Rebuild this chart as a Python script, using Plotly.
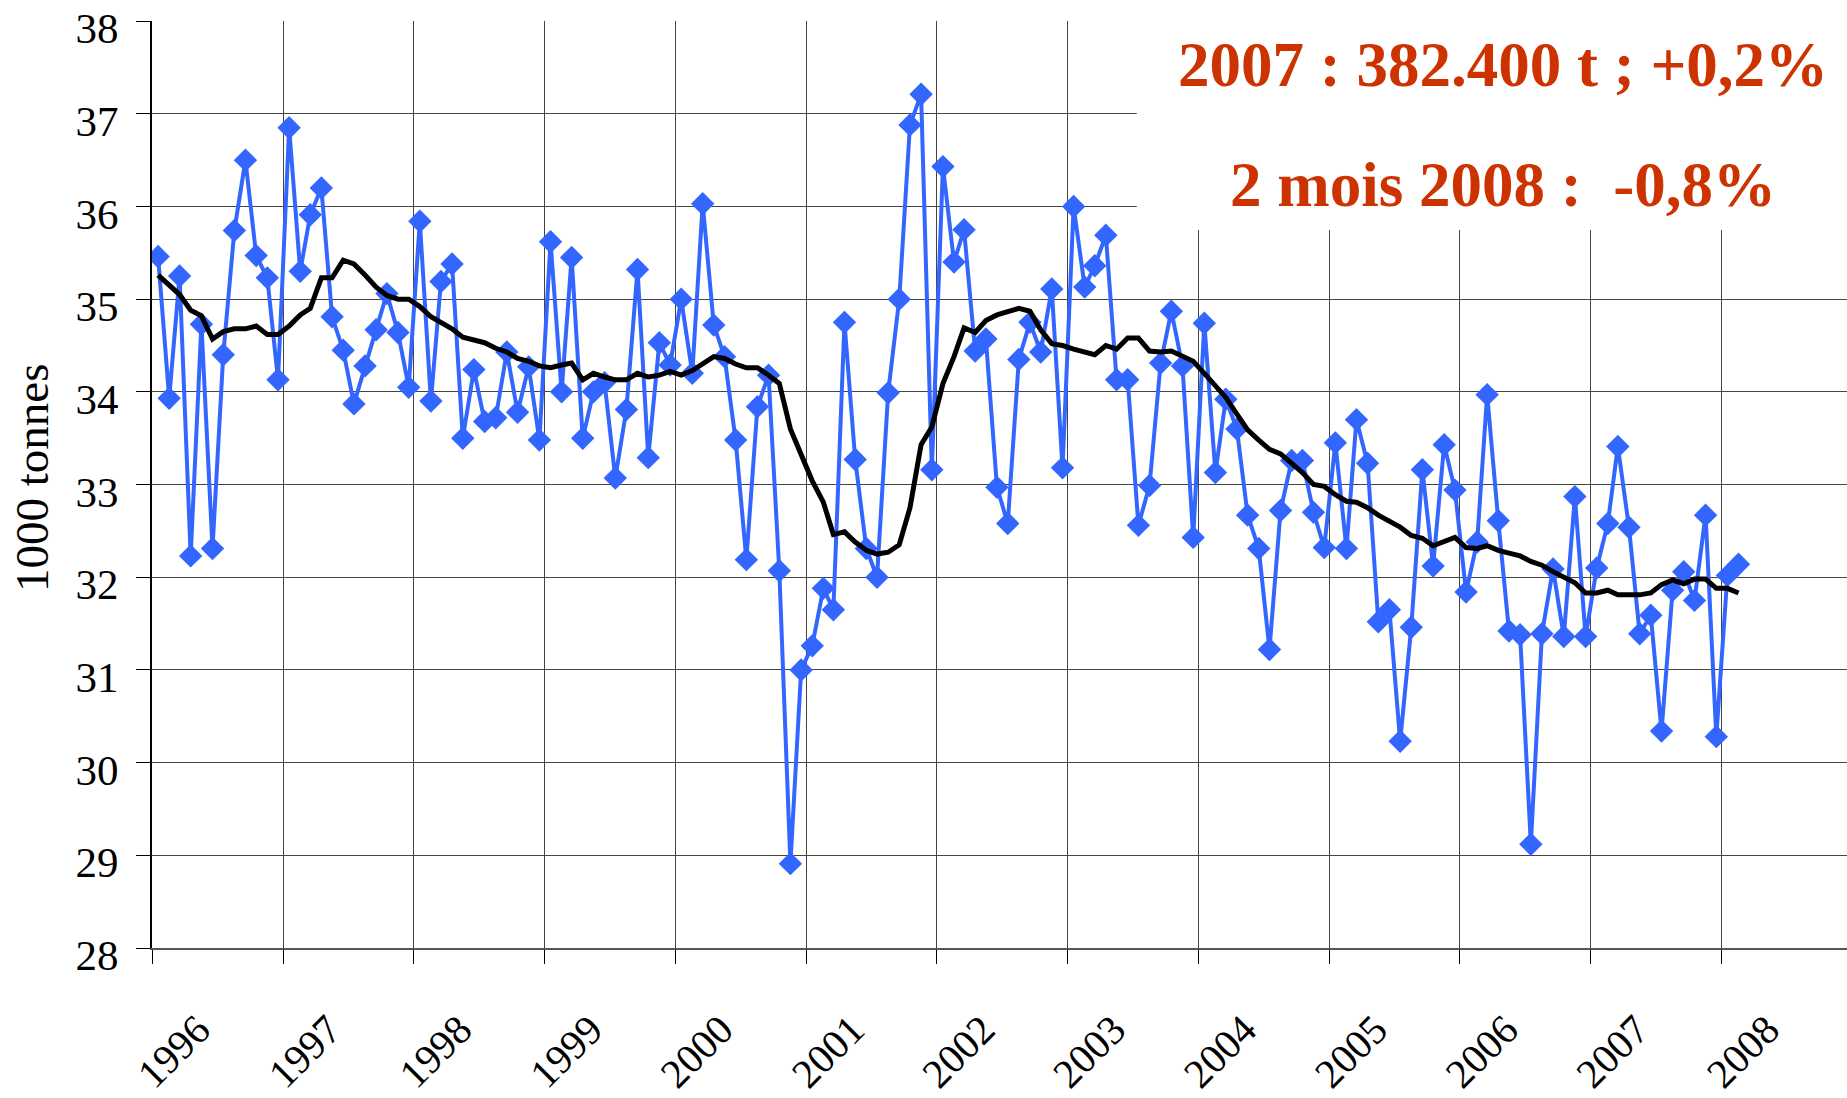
import plotly.graph_objects as go


# ==========================================================
# Data (1000 tonnes, monthly, Jan 1996 - Feb 2008)
# ==========================================================

years = ["1996", "1997", "1998", "1999", "2000", "2001", "2002",
         "2003", "2004", "2005", "2006", "2007", "2008"]

tonnage = [
    35.46, 33.93, 35.25, 32.23, 34.73, 32.31, 34.40, 35.74, 36.50, 35.47, 35.23, 34.13,  # 1996
    36.85, 35.30, 35.91, 36.20, 34.81, 34.45, 33.87, 34.28, 34.67, 35.06, 34.64, 34.05,  # 1997
    35.84, 33.90, 35.19, 35.38, 33.50, 34.24, 33.68, 33.72, 34.43, 33.78, 34.27, 33.48,  # 1998
    35.62, 34.00, 35.45, 33.50, 34.00, 34.10, 33.07, 33.81, 35.32, 33.29, 34.53, 34.29,  # 1999
    35.00, 34.20, 36.03, 34.72, 34.38, 33.48, 32.19, 33.84, 34.18, 32.07, 28.91, 31.00,  # 2000
    31.26, 31.88, 31.65, 34.75, 33.27, 32.31, 32.00, 33.99, 35.00, 36.88, 37.21, 33.16,  # 2001
    36.43, 35.40, 35.75, 34.44, 34.57, 32.97, 32.58, 34.35, 34.75, 34.43, 35.11, 33.18,  # 2002
    36.00, 35.13, 35.36, 35.69, 34.13, 34.13, 32.56, 32.99, 34.31, 34.87, 34.28, 32.43,  # 2003
    34.74, 33.13, 33.92, 33.60, 32.67, 32.31, 31.22, 32.72, 33.26, 33.26, 32.70, 32.32,  # 2004
    33.45, 32.31, 33.70, 33.23, 31.52, 31.65, 30.23, 31.46, 33.16, 32.12, 33.43, 32.94,  # 2005
    31.84, 32.38, 33.97, 32.61, 31.42, 31.38, 29.12, 31.39, 32.09, 31.36, 32.87, 31.36,  # 2006
    32.10, 32.58, 33.41, 32.54, 31.39, 31.59, 30.34, 31.86, 32.06, 31.75, 32.67, 30.28,  # 2007
    32.02, 32.14,                                                                        # 2008
]

moyenne = [
    35.26, 35.16, 35.05, 34.88, 34.82, 34.57, 34.65, 34.68, 34.68, 34.71, 34.62, 34.62,  # 1996
    34.71, 34.83, 34.90, 35.23, 35.23, 35.42, 35.38, 35.26, 35.13, 35.04, 35.00, 35.00,  # 1997
    34.92, 34.81, 34.75, 34.68, 34.59, 34.56, 34.53, 34.47, 34.43, 34.36, 34.33, 34.28,  # 1998
    34.26, 34.29, 34.31, 34.13, 34.20, 34.16, 34.13, 34.13, 34.20, 34.16, 34.18, 34.22,  # 1999
    34.18, 34.23, 34.30, 34.38, 34.36, 34.30, 34.26, 34.26, 34.18, 34.09, 33.60, 33.32,  # 2000
    33.04, 32.81, 32.46, 32.49, 32.38, 32.29, 32.25, 32.27, 32.35, 32.75, 33.43, 33.62,  # 2001
    34.09, 34.38, 34.69, 34.64, 34.77, 34.83, 34.87, 34.90, 34.87, 34.67, 34.52, 34.50,  # 2002
    34.46, 34.43, 34.40, 34.50, 34.46, 34.58, 34.58, 34.44, 34.43, 34.44, 34.39, 34.33,  # 2003
    34.20, 34.07, 33.94, 33.76, 33.59, 33.48, 33.38, 33.33, 33.23, 33.13, 33.00, 32.98,  # 2004
    32.89, 32.82, 32.81, 32.75, 32.67, 32.61, 32.54, 32.45, 32.42, 32.34, 32.39, 32.43,  # 2005
    32.32, 32.31, 32.34, 32.29, 32.26, 32.23, 32.17, 32.13, 32.06, 32.00, 31.94, 31.83,  # 2006
    31.83, 31.86, 31.81, 31.81, 31.81, 31.83, 31.92, 31.97, 31.93, 31.98, 31.98, 31.88,  # 2007
    31.88, 31.83,                                                                        # 2008
]

months = [f"{y}-{m:02d}-18" for y in years for m in range(1, 13)][:len(tonnage)]

note_2007 = "2007 : 382.400 t ; +0,2%"
note_2008 = "2 mois 2008 : \u00a0-0,8%"


# ==========================================================
# Figure
# ==========================================================

FONT = "Liberation Serif"

fig = go.Figure()

fig.add_trace(
    go.Scatter(
        x=months,
        y=tonnage,
        mode="lines+markers",
        line=dict(color="#3366FF", width=4),
        marker=dict(symbol="diamond", size=18, color="#3366FF"),
        showlegend=False
    )
)

fig.add_trace(
    go.Scatter(
        x=months,
        y=moyenne,
        mode="lines",
        line=dict(color="black", width=5),
        showlegend=False
    )
)

# white box behind the notes (hides the grid in the top right corner)
fig.add_shape(
    type="rect",
    xref="paper", yref="paper",
    x0=0.581, x1=1.01, y0=0.7745, y1=1.05,
    fillcolor="white",
    line=dict(width=0),
    layer="above"
)

for text, y in [(note_2007, 0.953), (note_2008, 0.823)]:
    fig.add_annotation(
        text=f"<b>{text}</b>",
        xref="paper", yref="paper",
        x=0.797, y=y,
        xanchor="center", yanchor="middle",
        showarrow=False,
        font=dict(family=FONT, size=63, color="#CC3300")
    )

fig.add_annotation(
    text="1000 tonnes",
    xref="paper", yref="paper",
    x=-0.0705, y=0.5065,
    xanchor="center", yanchor="middle",
    textangle=-90,
    showarrow=False,
    font=dict(family=FONT, size=47, color="black")
)

fig.update_layout(
    width=1847,
    height=1098,
    margin=dict(l=152, r=0, t=21, b=150),
    paper_bgcolor="white",
    plot_bgcolor="white",
    font=dict(family=FONT, size=43, color="black"),
    xaxis=dict(
        type="date",
        range=["1996-01-01", "2008-12-17"],
        tickvals=[f"{y}-01-01" for y in years],
        ticktext=years,
        tickangle=-45,
        tickfont=dict(size=41),
        ticks="outside",
        ticklen=14,
        tickcolor="black",
        ticklabelshift=46,
        ticklabelstandoff=25,
        automargin=False,
        showgrid=True,
        gridcolor="#444444",
        gridwidth=1,
        showline=True,
        linecolor="#555555",
        linewidth=2,
        zeroline=False
    ),
    yaxis=dict(
        range=[28, 38.001],
        dtick=1,
        ticks="outside",
        ticklen=14,
        tickcolor="black",
        ticklabelstandoff=9,
        ticklabelshift=7,
        ticklabeloverflow="allow",
        automargin=False,
        showgrid=True,
        gridcolor="#444444",
        gridwidth=1,
        showline=True,
        linecolor="black",
        linewidth=2,
        zeroline=False
    )
)

# drop the default 8px body margin so the figure fills the window exactly
fig.write_html(
    "out.html",
    config={"displayModeBar": False},
    post_script="document.body.style.margin = '0px';"
)
